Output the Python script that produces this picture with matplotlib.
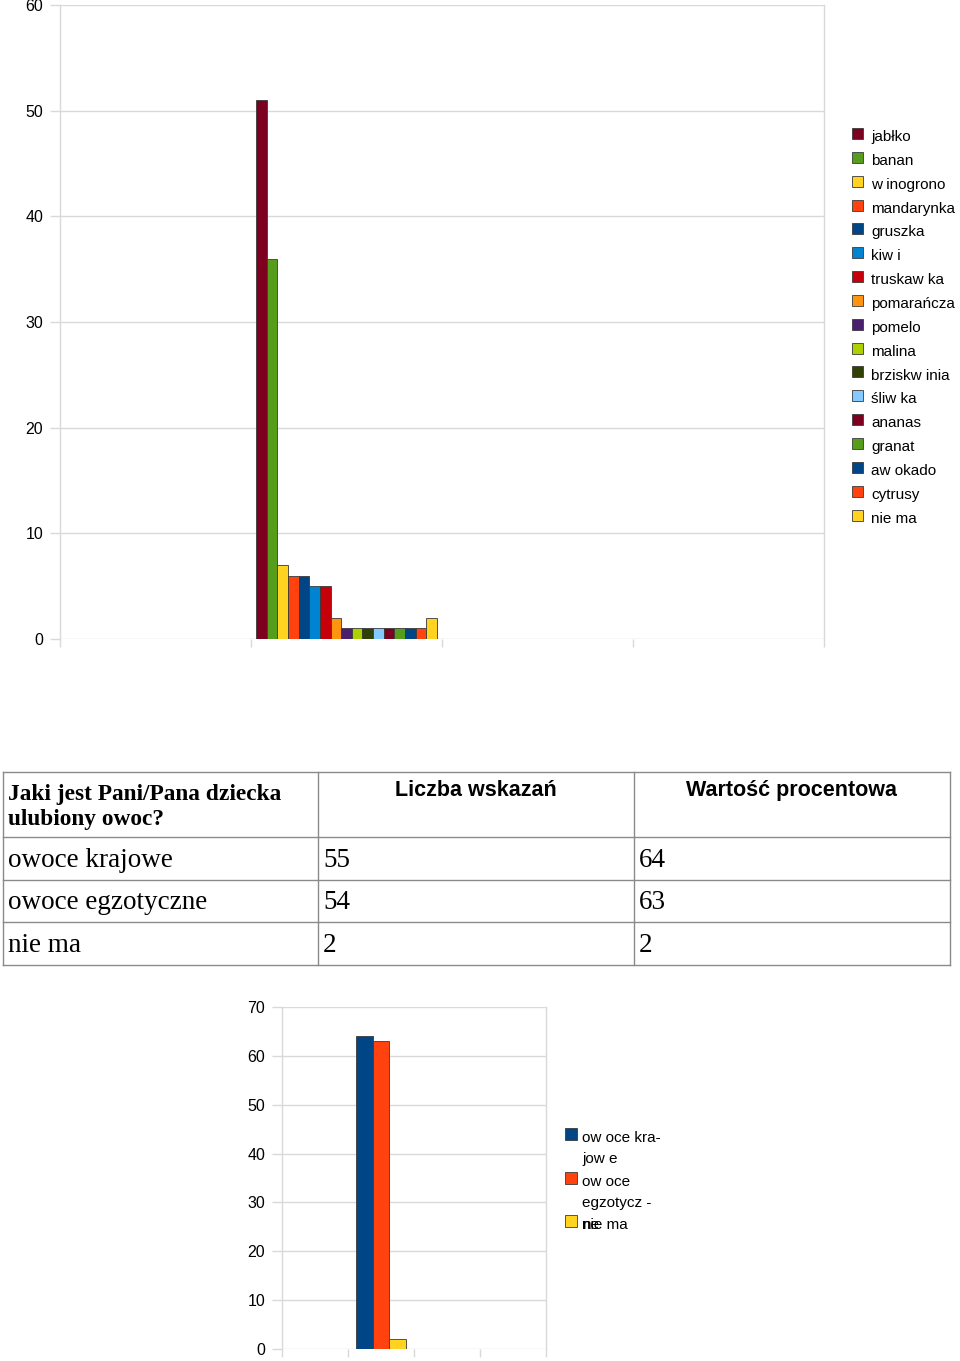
import numpy as np
import matplotlib
matplotlib.use('Agg')
import matplotlib.pyplot as plt
from matplotlib.patches import Rectangle

# top chart: favourite fruit counts
fruits = ['jabłko', 'banan', 'w inogrono', 'mandarynka', 'gruszka', 'kiw i',
          'truskaw ka', 'pomarańcza', 'pomelo', 'malina', 'brziskw inia',
          'śliw ka', 'ananas', 'granat', 'aw okado', 'cytrusy', 'nie ma']
fruit_counts = [51, 36, 7, 6, 6, 5, 5, 2, 1, 1, 1, 1, 1, 1, 1, 1, 2]
fruit_colors = ['#7E0021', '#579D1C', '#FFD320', '#FF420E', '#004586', '#0084D1',
                '#C5000B', '#FF950E', '#4B1F6F', '#AECF00', '#314004', '#83CAFF',
                '#7E0021', '#579D1C', '#004586', '#FF420E', '#FFD320']

# table
table_header = ['Jaki jest Pani/Pana dziecka\nulubiony owoc?', 'Liczba wskazań', 'Wartość procentowa']
table_rows = [['owoce krajowe', '55', '64'],
              ['owoce egzotyczne', '54', '63'],
              ['nie ma', '2', '2']]

# bottom chart: percentages
groups = ['ow oce kra-\njow e', 'ow oce\negzotycz -', 'nie ma']
group_pct = [64, 63, 2]
group_colors = ['#004586', '#FF420E', '#FFD320']

W, H = 960, 1361
GRID = '#d9d9d9'
SANS = 'Liberation Sans'
SERIF = 'Liberation Serif'

fig = plt.figure(figsize=(W / 100, H / 100), dpi=100)


def px_axes(left, top, right, bottom):
    return fig.add_axes([left / W, 1 - bottom / H, (right - left) / W, (bottom - top) / H])


def style_axes(ax, ymax):
    ax.set_xlim(0, 4)
    ax.set_ylim(0, ymax)
    ax.set_xticks([0, 1, 2, 3, 4])
    ax.set_xticklabels([])
    ax.set_yticks(np.arange(0, ymax + 1, 10))
    ax.grid(True, axis='y', color=GRID, linewidth=1)
    ax.set_axisbelow(True)
    for side in ('top', 'bottom'):
        ax.spines[side].set_visible(False)
    for side in ('left', 'right'):
        ax.spines[side].set_color(GRID)
        ax.spines[side].set_linewidth(1)
    ax.tick_params(axis='x', length=6, color=GRID, width=1)
    ax.tick_params(axis='y', length=7, color=GRID, width=1, pad=5, labelsize=11.5)
    for lab in ax.get_yticklabels():
        lab.set_fontfamily(SANS)


# ---- top chart
ax1 = px_axes(60, 5, 824, 639)
style_axes(ax1, 60)
n = len(fruit_counts)
bw = 0.948 / n
x1 = 1.026 + bw * np.arange(n)
ax1.bar(x1, fruit_counts, width=bw, align='edge', color=fruit_colors,
        edgecolor='#3a3a3a', linewidth=0.6, zorder=3)

for i, (name, col) in enumerate(zip(fruits, fruit_colors)):
    y = 133.5 + i * 23.85
    fig.patches.append(Rectangle((852 / W, 1 - (y + 5.5) / H), 11 / W, 11 / H,
                                 transform=fig.transFigure, facecolor=col,
                                 edgecolor='#3a3a3a', linewidth=0.6))
    fig.text(871 / W, 1 - (y + 3.5) / H, name, fontsize=11, family=SANS,
             va='center', ha='left')

# ---- table
tab = fig.add_axes([0, 0, 1, 1])
tab.set_xlim(0, W)
tab.set_ylim(H, 0)
tab.axis('off')
col_x = [3, 318, 634, 950]
row_y = [772, 837, 880, 922, 965]
line_kw = dict(color='#8a8a8a', linewidth=1)
for y in row_y:
    tab.plot([col_x[0], col_x[-1]], [y, y], **line_kw)
for x in col_x:
    tab.plot([x, x], [row_y[0], row_y[-1]], **line_kw)

tab.text(8, 807, table_header[0], fontsize=16.8, family=SERIF, weight='bold',
         va='center', ha='left', linespacing=1.3)
for j in (1, 2):
    tab.text((col_x[j] + col_x[j + 1]) / 2, 790, table_header[j], fontsize=15.5,
             family=SANS, weight='bold', va='center', ha='center')
for r, row in enumerate(table_rows):
    yc = (row_y[r + 1] + row_y[r + 2]) / 2 + 1.5
    for j, val in enumerate(row):
        tab.text(col_x[j] + 5, yc, val, fontsize=19.5, family=SERIF,
                 va='center', ha='left')

# ---- bottom chart
ax2 = px_axes(282, 1007, 546, 1349)
style_axes(ax2, 70)
m = len(group_pct)
bw2 = 0.76 / m
x2 = 1.12 + bw2 * np.arange(m)
ax2.bar(x2, group_pct, width=bw2, align='edge', color=group_colors,
        edgecolor='#3a3a3a', linewidth=0.6, zorder=3)

legend_y = [1134, 1178, 1221]
for name, col, y in zip(groups, group_colors, legend_y):
    fig.patches.append(Rectangle((565 / W, 1 - (y + 6) / H), 12 / W, 12 / H,
                                 transform=fig.transFigure, facecolor=col,
                                 edgecolor='#3a3a3a', linewidth=0.6))
    fig.text(582 / W, 1 - (y - 3) / H, name, fontsize=11, family=SANS,
             va='top', ha='left', linespacing=1.6)
# last line of the second label runs into the third entry, as in the source
fig.text(582 / W, 1 - (1221 - 3) / H, 'ne', fontsize=11, family=SANS,
         va='top', ha='left')

fig.savefig('out.png', dpi=100)
